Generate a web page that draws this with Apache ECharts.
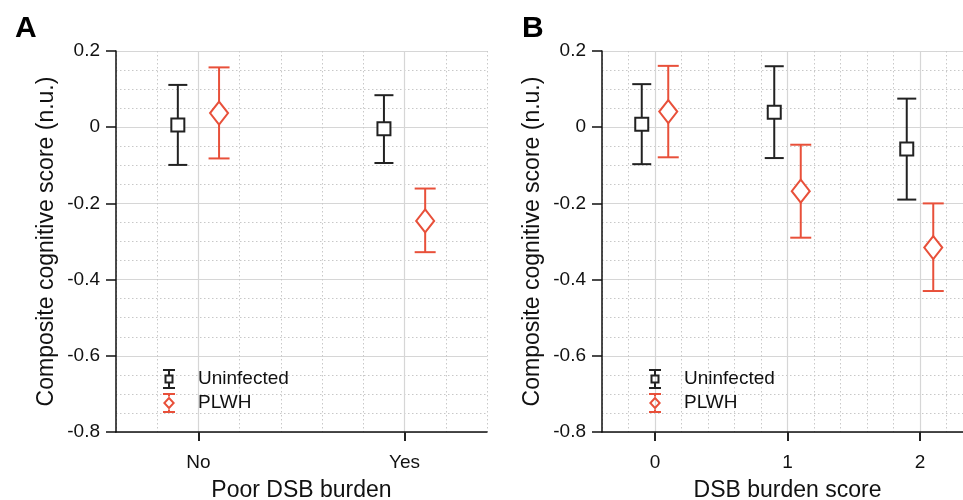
<!DOCTYPE html>
<html>
<head>
<meta charset="utf-8">
<script src="https://cdn.jsdelivr.net/npm/echarts@6/dist/echarts.min.js"></script>
<style>
  html, body { margin: 0; padding: 0; background: #fff; }
  #chart { width: 963px; height: 500px; }
</style>
</head>
<body>
<div id="chart"></div>
<script>
// 数据：面板A（Poor DSB burden）
const catsA = ['No', 'Yes'];
const uninfMeanA = [0.006, -0.004];
const uninfLoA = [-0.099, -0.094];
const uninfHiA = [0.111, 0.084];
const plwhMeanA = [0.037, -0.246];
const plwhLoA = [-0.082, -0.328];
const plwhHiA = [0.157, -0.161];

// 数据：面板B（DSB burden score）
const catsB = ['0', '1', '2'];
const uninfMeanB = [0.008, 0.039, -0.057];
const uninfLoB = [-0.097, -0.081, -0.19];
const uninfHiB = [0.113, 0.16, 0.075];
const plwhMeanB = [0.041, -0.168, -0.316];
const plwhLoB = [-0.079, -0.29, -0.43];
const plwhHiB = [0.161, -0.046, -0.2];

const yTicks = [-0.8, -0.6, -0.4, -0.2, 0, 0.2];

const FONT = "'Liberation Sans', Arial, Helvetica, sans-serif";
const BLACK = '#222222';
const RED = '#e8503a';
const DODGE = 0.1;

// 把数组拼成 [x, mean, lo, hi]
const rows = (mean, lo, hi, shift) => mean.map((m, i) => [i + shift, m, lo[i], hi[i]]);

// 误差线 + 标记
const errRender = (shape, color, capW) => (params, api) => {
  const x = api.value(0);
  const pm = api.coord([x, api.value(1)]);
  const plo = api.coord([x, api.value(2)]);
  const phi = api.coord([x, api.value(3)]);
  const st = { stroke: color, lineWidth: 2, fill: null };
  const cx = pm[0], cy = pm[1];
  const children = [
    { type: 'line', shape: { x1: cx, y1: plo[1], x2: cx, y2: phi[1] }, style: st },
    { type: 'line', shape: { x1: cx - capW / 2, y1: plo[1], x2: cx + capW / 2, y2: plo[1] }, style: st },
    { type: 'line', shape: { x1: cx - capW / 2, y1: phi[1], x2: cx + capW / 2, y2: phi[1] }, style: st }
  ];
  if (shape === 'square') {
    children.push({ type: 'rect', shape: { x: cx - 6.5, y: cy - 6.5, width: 13, height: 13 },
      style: { stroke: color, lineWidth: 2, fill: '#fff' } });
  } else {
    children.push({ type: 'polygon', shape: { points: [[cx, cy - 11.5], [cx + 9, cy], [cx, cy + 11.5], [cx - 9, cy]] },
      style: { stroke: color, lineWidth: 2, fill: '#fff' } });
  }
  return { type: 'group', children };
};

const iconUninf = 'path://M0 0H12V2H0Z M0 18H12V20H0Z M5 2H7V5.5H5Z M5 14.5H7V18H5Z M1.5 5.5H10.5V14.5H1.5Z M3.5 7.5V12.5H8.5V7.5Z';
const iconPlwh = 'path://M0 0H12V2H0Z M0 18H12V20H0Z M5 2H7V3.5H5Z M5 16.5H7V18H5Z M6 3.5L12 10L6 16.5L0 10Z M6 6.4L2.7 10L6 13.6L9.3 10Z';

const yAxisFor = (gridIndex) => ({
  type: 'value', gridIndex, min: -0.8, max: 0.2, interval: 0.2,
  name: 'Composite cognitive score (n.u.)', nameLocation: 'middle', nameGap: 58,
  nameTextStyle: { fontFamily: FONT, fontSize: 23, color: '#111' },
  axisLine: { show: true, onZero: false, lineStyle: { color: '#111', width: 1.5 } },
  axisTick: { show: true, length: 10, lineStyle: { color: '#111', width: 1.5 } },
  axisLabel: { fontFamily: FONT, fontSize: 19, color: '#111', margin: 16,
    formatter: v => (yTicks.some(t => Math.abs(t - v) < 1e-9) ? String(Math.round(v * 10) / 10) : '') },
  splitLine: { show: true, lineStyle: { color: '#d6d6d6', width: 1.2 } },
  minorTick: { show: false, splitNumber: 4 },
  minorSplitLine: { show: true, lineStyle: { color: '#c8c8c8', type: [1.5, 2.5], width: 1 } }
});

// 次网格（虚点）
const xMinorFor = (gridIndex, max) => ({
  type: 'value', gridIndex, min: -0.4, max, interval: 0.2,
  axisLine: { show: true, onZero: false, lineStyle: { color: '#111', width: 1.5 } },
  axisTick: { show: false }, axisLabel: { show: false },
  splitLine: { show: true, lineStyle: { color: '#c8c8c8', type: [1.5, 2.5], width: 1 } }
});

// 主刻度（实线 + 标签）
const xMajorFor = (gridIndex, max, cats, name) => ({
  type: 'value', gridIndex, min: -0.4, max, position: 'bottom',
  name, nameLocation: 'middle', nameGap: 47,
  nameTextStyle: { fontFamily: FONT, fontSize: 23, color: '#111' },
  axisLine: { show: false, onZero: false },
  axisTick: { show: true, length: 9, customValues: cats.map((c, i) => i), lineStyle: { color: '#222', width: 2 } },
  axisLabel: { fontFamily: FONT, fontSize: 19, color: '#111', margin: 21,
    customValues: cats.map((c, i) => i), formatter: v => cats[Math.round(v)] },
  splitLine: { show: true, lineStyle: { color: '#d6d6d6', width: 1.2 } }
});

const legendFor = (left) => ({
  orient: 'vertical', left, top: 364, itemWidth: 12, itemHeight: 20, itemGap: 4,
  textStyle: { fontFamily: FONT, fontSize: 19, color: '#111', padding: [0, 0, 0, 18] },
  data: [{ name: 'Uninfected', icon: iconUninf }, { name: 'PLWH', icon: iconPlwh }]
});

const seriesFor = (idx, uM, uL, uH, pM, pL, pH) => ([
  { name: 'Uninfected', type: 'custom', xAxisIndex: idx * 2, yAxisIndex: idx,
    itemStyle: { color: BLACK }, renderItem: errRender('square', BLACK, 19),
    data: rows(uM, uL, uH, -DODGE), z: 5 },
  { name: 'PLWH', type: 'custom', xAxisIndex: idx * 2, yAxisIndex: idx,
    itemStyle: { color: RED }, renderItem: errRender('diamond', RED, 21),
    data: rows(pM, pL, pH, DODGE), z: 5 }
]);

const myChart = echarts.init(document.getElementById('chart'), null, { renderer: 'canvas' });
const option = {
  animation: false,
  backgroundColor: '#fff',
  textStyle: { fontFamily: FONT },
  title: [
    { text: 'A', left: 10, top: 9, textStyle: { fontFamily: FONT, fontSize: 30, fontWeight: 'bold', color: '#000' } },
    { text: 'B', left: 517, top: 9, textStyle: { fontFamily: FONT, fontSize: 30, fontWeight: 'bold', color: '#000' } }
  ],
  grid: [
    { left: 116, right: 476, top: 51, bottom: 68, outerBoundsMode: 'none' },
    { left: 602, right: -10, top: 51, bottom: 68, outerBoundsMode: 'none' }
  ],
  legend: [legendFor(158), legendFor(644)],
  xAxis: [
    xMinorFor(0, 1.4), xMajorFor(0, 1.4, catsA, 'Poor DSB burden'),
    xMinorFor(1, 2.4), xMajorFor(1, 2.4, catsB, 'DSB burden score')
  ],
  yAxis: [yAxisFor(0), yAxisFor(1)],
  series: [
    ...seriesFor(0, uninfMeanA, uninfLoA, uninfHiA, plwhMeanA, plwhLoA, plwhHiA),
    ...seriesFor(1, uninfMeanB, uninfLoB, uninfHiB, plwhMeanB, plwhLoB, plwhHiB)
  ]
};
myChart.setOption(option);
</script>
</body>
</html>
